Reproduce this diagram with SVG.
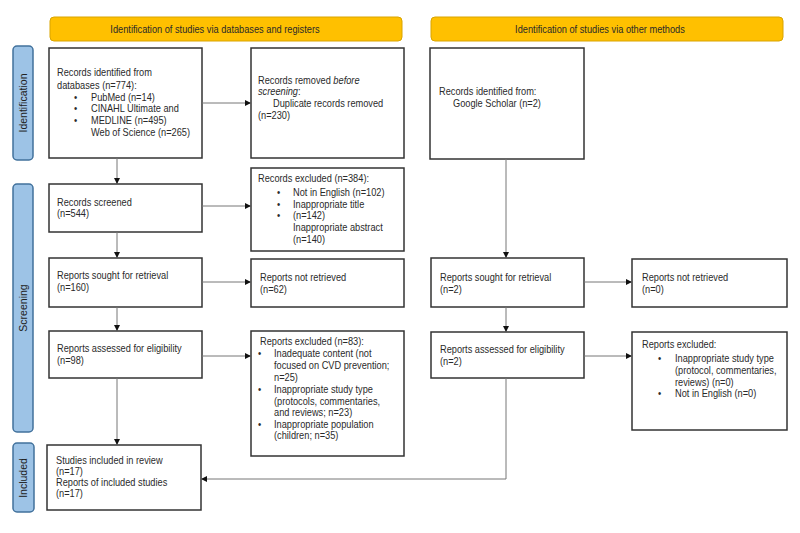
<svg xmlns="http://www.w3.org/2000/svg" width="800" height="533" viewBox="0 0 800 533">
<defs>
<marker id="ah" viewBox="0 0 10 10" refX="10" refY="5" markerWidth="6" markerHeight="6" markerUnits="userSpaceOnUse" orient="auto">
<path d="M0,0 L10,5 L0,10 Z" fill="#111"/>
</marker>
<style>
text{font-family:"Liberation Sans",Arial,sans-serif;font-size:10.5px;fill:#2a2a2a}
.box text,.hdr text{transform-box:fill-box;transform-origin:0 50%;transform:scaleX(0.88)}
.hdr text{transform-origin:50% 50%}
.hdr rect{fill:#FFC000;stroke:#D9A400;stroke-width:1}
.side rect{fill:#9DC3E6;stroke:#41719C;stroke-width:1.5}
.side text{font-size:10.5px;fill:#222}
.box rect{fill:#fff;stroke:#333;stroke-width:1.5}
.con line,.con polyline{stroke:#777;stroke-width:1;fill:none}
</style>
</defs>
<rect width="800" height="533" fill="#fff"/>

<g id="hdr-left" class="hdr"><rect x="50" y="17" width="352" height="24" rx="4"/><text x="215" y="33" text-anchor="middle">Identification of studies via databases and registers</text></g>
<g id="hdr-right" class="hdr"><rect x="431" y="17" width="352" height="24" rx="4"/><text x="600" y="33" text-anchor="middle">Identification of studies via other methods</text></g>

<g id="side-identification" class="side"><rect x="13" y="46" width="20" height="114" rx="4"/><text transform="translate(27,103) rotate(-90)" text-anchor="middle">Identification</text></g>
<g id="side-screening" class="side"><rect x="13" y="184" width="20" height="248" rx="4"/><text transform="translate(27,308) rotate(-90)" text-anchor="middle">Screening</text></g>
<g id="side-included" class="side"><rect x="13" y="443" width="21" height="69" rx="4"/><text transform="translate(27,478) rotate(-90)" text-anchor="middle">Included</text></g>

<g id="records-identified" class="box"><rect x="49" y="48" width="153" height="110"/>
<text x="57" y="76">Records identified from</text>
<text x="57" y="89">databases (n=774):</text>
<text x="74" y="101">•</text><text x="91" y="101">PubMed (n=14)</text>
<text x="74" y="112">•</text><text x="91" y="112">CINAHL Ultimate and</text>
<text x="74" y="124">•</text><text x="91" y="124">MEDLINE (n=495)</text>
<text x="91" y="136">Web of Science (n=265)</text>
</g>
<g id="records-removed" class="box"><rect x="251" y="48" width="153" height="110"/>
<text x="258" y="84">Records removed <tspan font-style="italic">before</tspan></text>
<text x="258" y="95"><tspan font-style="italic">screening</tspan>:</text>
<text x="273" y="107">Duplicate records removed</text>
<text x="258" y="119">(n=230)</text>
</g>
<g id="records-other" class="box"><rect x="430" y="48" width="154" height="111"/>
<text x="439" y="95">Records identified from:</text>
<text x="453" y="107">Google Scholar (n=2)</text>
</g>

<g id="records-screened" class="box"><rect x="49" y="184" width="153" height="48"/>
<text x="57" y="206">Records screened</text>
<text x="57" y="217">(n=544)</text>
</g>
<g id="records-excluded" class="box"><rect x="251" y="168" width="153" height="83"/>
<text x="258" y="182">Records excluded (n=384):</text>
<text x="277" y="196">•</text><text x="293" y="196">Not in English (n=102)</text>
<text x="277" y="208">•</text><text x="293" y="208">Inappropriate title</text>
<text x="277" y="219">•</text><text x="293" y="219">(n=142)</text>
<text x="293" y="231">Inappropriate abstract</text>
<text x="293" y="243">(n=140)</text>
</g>

<g id="sought-left" class="box"><rect x="49" y="258" width="153" height="49"/>
<text x="57" y="279">Reports sought for retrieval</text>
<text x="57" y="291">(n=160)</text>
</g>
<g id="notretrieved-left" class="box"><rect x="251" y="259" width="153" height="48"/>
<text x="260" y="281">Reports not retrieved</text>
<text x="260" y="293">(n=62)</text>
</g>
<g id="sought-right" class="box"><rect x="431" y="258" width="153" height="49"/>
<text x="440" y="281">Reports sought for retrieval</text>
<text x="440" y="293">(n=2)</text>
</g>
<g id="notretrieved-right" class="box"><rect x="632" y="259" width="155" height="48"/>
<text x="642" y="281">Reports not retrieved</text>
<text x="642" y="293">(n=0)</text>
</g>

<g id="assessed-left" class="box"><rect x="49" y="331" width="153" height="47"/>
<text x="57" y="352">Reports assessed for eligibility</text>
<text x="57" y="364">(n=98)</text>
</g>
<g id="excluded-left" class="box"><rect x="251" y="331" width="153" height="125"/>
<text x="260" y="345">Reports excluded (n=83):</text>
<text x="258" y="357">•</text><text x="274" y="357">Inadequate content (not</text>
<text x="274" y="369">focused on CVD prevention;</text>
<text x="274" y="381">n=25)</text>
<text x="258" y="393">•</text><text x="274" y="393">Inappropriate study type</text>
<text x="274" y="405">(protocols, commentaries,</text>
<text x="274" y="416">and reviews; n=23)</text>
<text x="258" y="428">•</text><text x="274" y="428">Inappropriate population</text>
<text x="274" y="439">(children; n=35)</text>
</g>
<g id="assessed-right" class="box"><rect x="431" y="332" width="153" height="46"/>
<text x="440" y="353">Reports assessed for eligibility</text>
<text x="440" y="365">(n=2)</text>
</g>
<g id="excluded-right" class="box"><rect x="632" y="332" width="155" height="98"/>
<text x="642" y="348">Reports excluded:</text>
<text x="658" y="362">•</text><text x="675" y="362">Inappropriate study type</text>
<text x="675" y="374">(protocol, commentaries,</text>
<text x="675" y="386">reviews) (n=0)</text>
<text x="658" y="397">•</text><text x="675" y="397">Not in English (n=0)</text>
</g>

<g id="included" class="box"><rect x="47" y="445" width="154" height="65"/>
<text x="56" y="464">Studies included in review</text>
<text x="56" y="475">(n=17)</text>
<text x="56" y="486">Reports of included studies</text>
<text x="56" y="497">(n=17)</text>
</g>

<g id="connectors" class="con">
<line x1="117" y1="158" x2="117" y2="184" marker-end="url(#ah)"/>
<line x1="117" y1="232" x2="117" y2="258" marker-end="url(#ah)"/>
<line x1="117" y1="307" x2="117" y2="331" marker-end="url(#ah)"/>
<line x1="117" y1="378" x2="117" y2="445" marker-end="url(#ah)"/>
<line x1="202" y1="103" x2="251" y2="103" marker-end="url(#ah)"/>
<line x1="202" y1="206" x2="251" y2="206" marker-end="url(#ah)"/>
<line x1="202" y1="282" x2="251" y2="282" marker-end="url(#ah)"/>
<line x1="202" y1="356" x2="251" y2="356" marker-end="url(#ah)"/>
<line x1="506" y1="159" x2="506" y2="258" marker-end="url(#ah)"/>
<line x1="506" y1="307" x2="506" y2="332" marker-end="url(#ah)"/>
<line x1="584" y1="282" x2="632" y2="282" marker-end="url(#ah)"/>
<line x1="584" y1="356" x2="632" y2="356" marker-end="url(#ah)"/>
<polyline points="506,378 506,479 201,479" marker-end="url(#ah)"/>
</g>
</svg>
